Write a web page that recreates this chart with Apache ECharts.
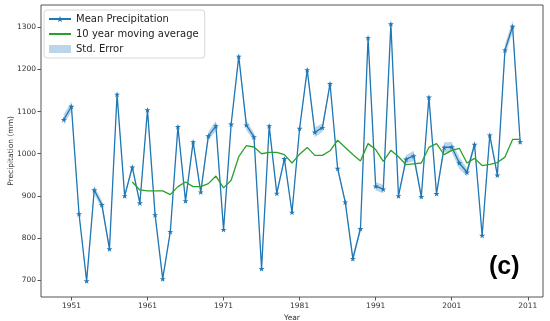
<!DOCTYPE html>
<html>
<head>
<meta charset="utf-8">
<script src="https://cdn.jsdelivr.net/npm/echarts@6/dist/echarts.min.js"></script>
<style>
html,body{margin:0;padding:0;background:#fff;}
#chart{width:550px;height:321px;}
</style>
</head>
<body>
<div id="chart"></div>
<script>
const years = [1950,1951,1952,1953,1954,1955,1956,1957,1958,1959,
  1960,1961,1962,1963,1964,1965,1966,1967,1968,1969,
  1970,1971,1972,1973,1974,1975,1976,1977,1978,1979,
  1980,1981,1982,1983,1984,1985,1986,1987,1988,1989,
  1990,1991,1992,1993,1994,1995,1996,1997,1998,1999,
  2000,2001,2002,2003,2004,2005,2006,2007,2008,2009,2010];
const precip = [1081,1112,857,698,914,879,774,1141,900,968,
  883,1104,855,703,815,1064,888,1028,909,1042,
  1066,820,1070,1231,1068,1040,727,1066,906,988,
  861,1060,1199,1051,1062,1166,965,885,751,822,
  1275,923,916,1308,900,987,995,898,1134,905,
  1015,1016,978,956,1022,806,1044,949,1246,1302,1028];
const stdErr = [13,12,5,6,10,10,8,5,6,6,
  6,6,5,5,5,5,5,5,6,10,
  12,5,5,5,12,10,6,5,6,5,
  5,5,6,12,10,6,6,6,10,8,
  6,10,10,5,5,10,12,6,5,6,
  12,12,14,10,8,5,8,6,14,14,5];
const movYears = [1959,1960,1961,1962,1963,1964,1965,1966,1967,1968,
  1969,1970,1971,1972,1973,1974,1975,1976,1977,1978,
  1979,1980,1981,1982,1983,1984,1985,1986,1987,1988,
  1989,1990,1991,1992,1993,1994,1995,1996,1997,1998,
  1999,2000,2001,2002,2003,2004,2005,2006,2007,2008,2009,2010];
const movAvg = [933,914,912,912,912,903,922,933,922,922,
  929,947,919,937,993,1019,1016,1000,1003,1003,
  998,978,999,1015,996,996,1007,1032,1015,998,
  983,1024,1010,982,1008,993,974,976,978,1015,
  1024,998,1008,1013,978,989,972,975,979,992,1034,1034];
const xTicks = [1951,1961,1971,1981,1991,2001,2011];
const yTicks = [700,800,900,1000,1100,1200,1300];

const blue = '#1f77b4', green = '#2ca02c', band = 'rgba(31,119,180,0.3)';
const star = 'path://M0,-1 L0.2245,-0.309 L0.951,-0.309 L0.363,0.118 L0.588,0.809 L0,0.382 L-0.588,0.809 L-0.363,0.118 L-0.951,-0.309 L-0.2245,-0.309 Z';
const font = 'DejaVu Sans';
const plain = v => String(v);

const chart = echarts.init(document.getElementById('chart'), null, {renderer: 'canvas'});
chart.setOption({
  animation: false,
  textStyle: {fontFamily: font},
  grid: {left: 41, right: 7, top: 5, bottom: 24, outerBoundsMode: 'none', containLabel: false,
    show: true, borderColor: '#555', borderWidth: 1, backgroundColor: '#fff'},
  legend: {
    orient: 'vertical', left: 44, top: 10,
    data: [
      {name: 'Mean Precipitation'},
      {name: '10 year moving average', itemStyle: {opacity: 0}},
      {name: 'Std. Error', icon: 'rect'}
    ],
    itemWidth: 22, itemHeight: 8, itemGap: 5,
    padding: [4, 6, 4, 4],
    borderColor: '#d8d8d8', borderWidth: 1, borderRadius: 3, backgroundColor: 'rgba(255,255,255,0.85)',
    textStyle: {fontFamily: font, fontSize: 10, color: '#222', padding: [0,0,0,0]}
  },
  xAxis: {
    type: 'value', min: 1947, max: 2013,
    name: 'Year', nameLocation: 'middle', nameGap: 17, nameMoveOverlap: false,
    nameTextStyle: {fontFamily: font, fontSize: 7.5, color: '#333'},
    axisLine: {show: false},
    splitLine: {show: false},
    axisTick: {show: true, length: 3.5, customValues: xTicks, lineStyle: {color: '#555'}},
    axisLabel: {customValues: xTicks, formatter: plain, fontSize: 7.5, color: '#333', margin: 5, fontFamily: font}
  },
  yAxis: {
    type: 'value', min: 660, max: 1353,
    name: 'Precipitation (mm)', nameLocation: 'middle', nameGap: 26, nameRotate: 90, nameMoveOverlap: false,
    nameTextStyle: {fontFamily: font, fontSize: 7.5, color: '#333'},
    axisLine: {show: false},
    splitLine: {show: false},
    axisTick: {show: true, length: 3.5, customValues: yTicks, lineStyle: {color: '#555'}},
    axisLabel: {customValues: yTicks, formatter: plain, fontSize: 7.5, color: '#333', margin: 5, fontFamily: font}
  },
  series: [
    {
      name: 'Std. Error', type: 'custom',
      itemStyle: {color: band},
      data: years.map((y, i) => [y, precip[i] - stdErr[i], precip[i] + stdErr[i]]),
      encode: {x: 0, y: [1, 2]},
      clip: true, z: 1,
      renderItem: function (params, api) {
        if (params.dataIndex !== 0) return;
        const upper = [], lower = [];
        for (let i = 0; i < years.length; i++) {
          upper.push(api.coord([years[i], precip[i] + stdErr[i]]));
          lower.unshift(api.coord([years[i], precip[i] - stdErr[i]]));
        }
        return {type: 'polygon', shape: {points: upper.concat(lower)}, style: {fill: band}};
      }
    },
    {
      name: 'Mean Precipitation', type: 'line', z: 3,
      data: years.map((y, i) => [y, precip[i]]),
      symbol: star, symbolSize: 6, symbolKeepAspect: true, showSymbol: true,
      lineStyle: {color: blue, width: 1.3},
      itemStyle: {color: blue}
    },
    {
      name: '10 year moving average', type: 'line', z: 4,
      data: movYears.map((y, i) => [y, movAvg[i]]),
      symbol: 'none', showSymbol: false,
      lineStyle: {color: green, width: 1.3},
      itemStyle: {color: green}
    }
  ],
  graphic: [
    {type: 'text', left: 489, top: 255, style: {text: '(c)', font: 'bold 25px "Liberation Sans"', fill: '#000'}}
  ]
});
</script>
</body>
</html>
